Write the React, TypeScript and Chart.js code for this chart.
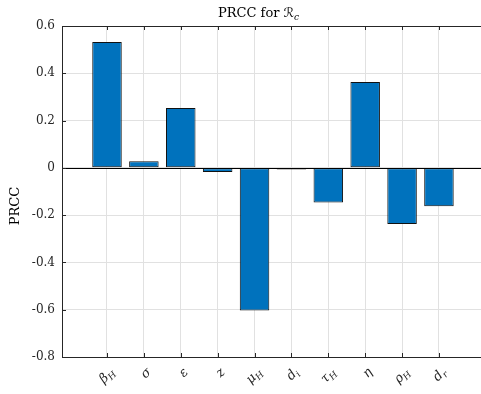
import React, { useEffect, useRef } from "react";
import { Chart, registerables } from "chart.js";

Chart.register(...registerables);

// ---- data ----
const paramSymbols = ["β", "σ", "ε", "z", "μ", "d", "τ", "η", "ρ", "d"];
const paramSubscripts = ["H", "", "", "", "H", "i", "H", "", "H", "r"];
const prccValues = [0.532, 0.028, 0.253, -0.017, -0.603, -0.007, -0.146, 0.363, -0.237, -0.162];
const yTickValues = [-0.8, -0.6, -0.4, -0.2, 0, 0.2, 0.4, 0.6];
const titleMain = "PRCC for ";
const titleSymbol = "ℛ";
const titleSub = "c";
const yAxisTitle = "PRCC";

const SERIF = '"DejaVu Serif", "DejaVu Sans", serif';
const AXIS_COLOR = "#262626";
const GRID_COLOR = "#e1e1e1";

const decorPlugin = {
  id: "matlabDecor",
  afterDatasetsDraw(chart: any) {
    const { ctx, chartArea: a, scales } = chart;
    const xs = scales.x;
    const ys = scales.y;
    ctx.save();
    ctx.lineWidth = 1;
    // zero baseline
    const y0 = Math.round(ys.getPixelForValue(0)) + 0.5;
    ctx.strokeStyle = "#000";
    ctx.beginPath();
    ctx.moveTo(a.left, y0);
    ctx.lineTo(a.right, y0);
    ctx.stroke();
    // top border
    ctx.strokeStyle = AXIS_COLOR;
    const yt = Math.round(a.top) + 0.5;
    ctx.beginPath();
    ctx.moveTo(a.left, yt);
    ctx.lineTo(a.right, yt);
    ctx.stroke();
    // inward ticks on x (top and bottom)
    xs.ticks.forEach((t: any) => {
      const px = Math.round(xs.getPixelForValue(t.value)) + 0.5;
      ctx.beginPath();
      ctx.moveTo(px, a.bottom);
      ctx.lineTo(px, a.bottom - 4);
      ctx.moveTo(px, a.top);
      ctx.lineTo(px, a.top + 4);
      ctx.stroke();
    });
    // inward ticks on y (left)
    ys.ticks.forEach((t: any) => {
      const py = Math.round(ys.getPixelForValue(t.value)) + 0.5;
      ctx.beginPath();
      ctx.moveTo(a.left, py);
      ctx.lineTo(a.left + 4, py);
      ctx.stroke();
    });
    ctx.restore();
  },
  afterDraw(chart: any) {
    const { ctx, chartArea: a, scales } = chart;
    const xs = scales.x;
    ctx.save();
    ctx.fillStyle = AXIS_COLOR;
    // rotated x labels
    paramSymbols.forEach((sym, i) => {
      const sub = paramSubscripts[i];
      const px = xs.getPixelForValue(i + 1) + 5;
      const py = a.bottom + 13;
      ctx.save();
      ctx.translate(px, py);
      ctx.rotate(-Math.PI / 4);
      ctx.textBaseline = "alphabetic";
      ctx.textAlign = "left";
      ctx.font = `italic 13px ${SERIF}`;
      const w1 = ctx.measureText(sym).width;
      ctx.font = `italic 9px ${SERIF}`;
      const w2 = sub ? ctx.measureText(sub).width : 0;
      const total = w1 + w2;
      ctx.font = `italic 13px ${SERIF}`;
      ctx.fillText(sym, -total, 4);
      if (sub) {
        ctx.font = `italic 9px ${SERIF}`;
        ctx.fillText(sub, -total + w1, 7);
      }
      ctx.restore();
    });
    // title
    ctx.textBaseline = "alphabetic";
    ctx.textAlign = "left";
    ctx.font = `13px ${SERIF}`;
    const tw1 = ctx.measureText(titleMain).width;
    const tw2 = ctx.measureText(titleSymbol).width;
    ctx.font = `italic 9px ${SERIF}`;
    const tw3 = ctx.measureText(titleSub).width;
    const tTotal = tw1 + tw2 + tw3;
    const tx = 258.5 - tTotal / 2;
    ctx.font = `13px ${SERIF}`;
    ctx.fillStyle = "#000";
    ctx.fillText(titleMain, tx, 17);
    ctx.fillText(titleSymbol, tx + tw1, 17);
    ctx.font = `italic 9px ${SERIF}`;
    ctx.fillText(titleSub, tx + tw1 + tw2, 20);
    // y axis title
    ctx.save();
    ctx.translate(16, 206);
    ctx.rotate(-Math.PI / 2);
    ctx.textAlign = "center";
    ctx.textBaseline = "middle";
    ctx.font = `13px ${SERIF}`;
    ctx.fillStyle = "#000";
    ctx.fillText(yAxisTitle, 0, 0);
    ctx.restore();
    ctx.restore();
  },
};

export default function App() {
  const ref = useRef<HTMLCanvasElement | null>(null);
  useEffect(() => {
    if (!ref.current) return;
    const chart = new Chart(ref.current, {
      type: "bar",
      data: {
        datasets: [
          {
            data: prccValues.map((v, i) => ({ x: i + 1, y: v })),
            backgroundColor: "#0072BD",
            borderColor: "#111111",
            borderWidth: 1,
            borderSkipped: false,
            barPercentage: 0.8,
            categoryPercentage: 1,
          },
        ],
      },
      options: {
        responsive: false,
        animation: false,
        devicePixelRatio: 1,
        layout: { padding: { top: 26, left: 0, right: 0, bottom: 0 } },
        plugins: {
          legend: { display: false },
          title: { display: false },
          tooltip: { enabled: false },
        },
        scales: {
          x: {
            type: "linear",
            offset: false,
            min: -0.22,
            max: 11.14,
            afterBuildTicks: (scale: any) => {
              scale.ticks = paramSymbols.map((_, i) => ({ value: i + 1 }));
            },
            afterFit: (scale: any) => {
              scale.height = 37;
            },
            ticks: { display: false },
            grid: { offset: false, color: GRID_COLOR, lineWidth: 1, drawTicks: false },
            border: { display: true, color: AXIS_COLOR, width: 1 },
          },
          y: {
            type: "linear",
            min: -0.8,
            max: 0.6,
            afterBuildTicks: (scale: any) => {
              scale.ticks = yTickValues.map((v) => ({ value: v }));
            },
            afterFit: (scale: any) => {
              scale.width = 62;
            },
            ticks: {
              padding: 7,
              color: AXIS_COLOR,
              font: { family: SERIF, size: 12 },
              callback: (v: any) => (Math.abs(v) < 1e-9 ? "0" : Number(v).toFixed(1)),
            },
            grid: { color: GRID_COLOR, lineWidth: 1, drawTicks: false },
            border: { display: true, color: AXIS_COLOR, width: 1 },
          },
        },
      },
      plugins: [decorPlugin],
    });
    return () => chart.destroy();
  }, []);
  return (
    <div style={{ position: "fixed", left: 0, top: 0, width: 481, height: 394, background: "#fff" }}>
      <canvas ref={ref} width={481} height={394} style={{ width: 481, height: 394, display: "block" }} />
    </div>
  );
}
